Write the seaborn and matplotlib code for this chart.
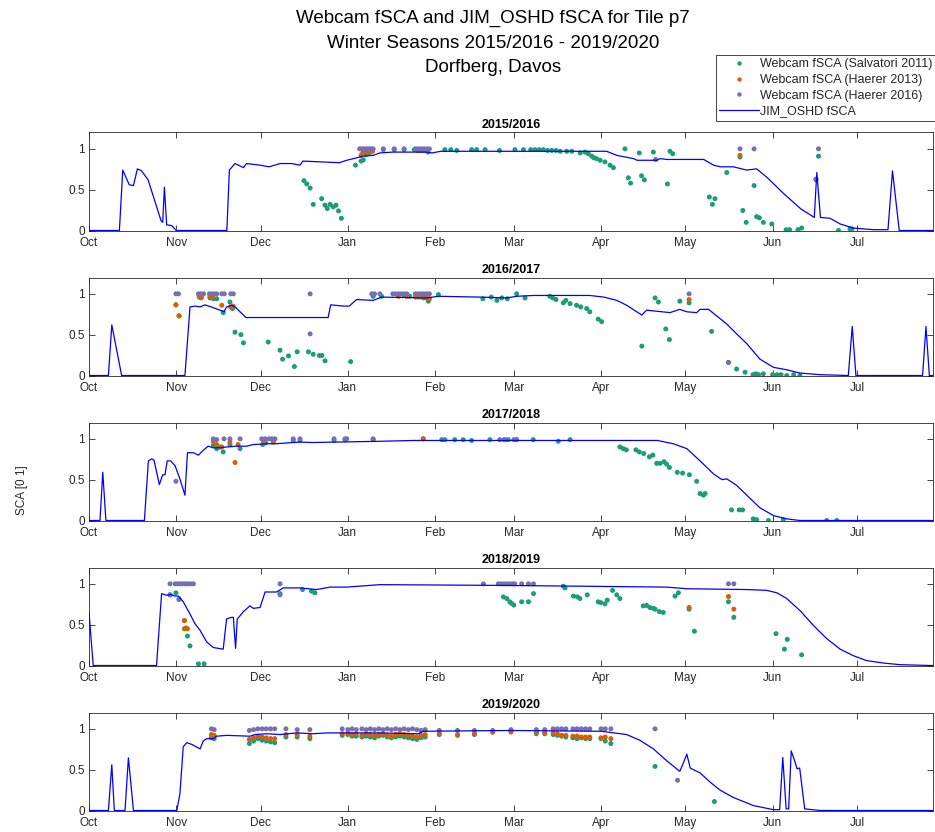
import matplotlib
matplotlib.use("Agg")
import matplotlib.pyplot as plt
from matplotlib.lines import Line2D
import seaborn as sns
import pandas as pd

# ---- axis labels -------------------------------------------------------
month_days = [0, 31, 61, 92, 123, 151, 182, 212, 243, 273]   # days since 1 Oct
month_labels = ["Oct", "Nov", "Dec", "Jan", "Feb", "Mar", "Apr", "May", "Jun", "Jul"]
seasons = ["2015/2016", "2016/2017", "2017/2018", "2018/2019", "2019/2020"]
sources = ["Webcam fSCA (Salvatori 2011)", "Webcam fSCA (Haerer 2013)",
           "Webcam fSCA (Haerer 2016)"]
model_label = "JIM_OSHD fSCA"

# ---- JIM_OSHD modelled fSCA: (day since 1 Oct, fSCA) --------------------
oshd_1516 = [(0, 0), (10.8, 0), (12, 0.74), (14.3, 0.56), (15.8, 0.55), (17.2, 0.755), (18.7, 0.73),
             (21, 0.62), (23.5, 0.35), (25.6, 0.12), (26.2, 0.10), (26.8, 0.53), (27.6, 0.07),
             (29.4, 0.06), (31, 0), (49, 0), (49.9, 0.74), (51.9, 0.82), (54.9, 0.77), (56, 0.82),
             (60.8, 0.80), (64, 0.78), (66, 0.80), (68, 0.82), (72, 0.82), (75, 0.80), (76, 0.85),
             (89, 0.83), (91.6, 0.86), (94, 0.88), (97.5, 0.91), (101, 0.92), (103.4, 0.95),
             (108, 0.96), (120, 0.96), (122, 0.95), (125, 0.97), (150, 0.97), (184, 0.97),
             (187.6, 0.92), (193.6, 0.88), (194.8, 0.86), (201.9, 0.86), (203, 0.88), (205.4, 0.87),
             (218.5, 0.87), (222, 0.80), (224.4, 0.78), (229, 0.78), (233.8, 0.74), (237.3, 0.755),
             (241, 0.65), (247, 0.45), (253, 0.265), (257.8, 0.16), (258.7, 0.71), (260, 0.16),
             (263.4, 0.15), (267, 0.08), (271.7, 0.03), (278.8, 0.01), (284, 0.01), (285.6, 0.73),
             (288, 0), (300, 0)]
oshd_1617 = [(0, 0), (6.9, 0), (8.1, 0.62), (11.6, 0), (34.1, 0), (35.9, 0.84), (37.7, 0.85),
             (39.5, 0.84), (41.2, 0.865), (43, 0.845), (46.6, 0.80), (48, 0.78), (48.9, 0.84),
             (50.7, 0.86), (51.9, 0.84), (53.7, 0.78), (55.8, 0.71), (85, 0.71), (85.9, 0.865),
             (90.4, 0.85), (92.5, 0.85), (95.1, 0.93), (101, 0.92), (104, 0.96), (120, 0.95),
             (124.2, 0.97), (139, 0.96), (148.5, 0.95), (152, 0.97), (158, 0.98), (178, 0.98),
             (183, 0.96), (187.6, 0.92), (191.1, 0.86), (194.7, 0.78), (196.5, 0.74), (198.2, 0.80),
             (206.5, 0.77), (210, 0.81), (212.5, 0.78), (216, 0.77), (217.2, 0.81), (220.2, 0.81),
             (223.1, 0.73), (226.7, 0.63), (230.2, 0.51), (233.8, 0.39), (238.5, 0.20), (243.3, 0.10),
             (248, 0.07), (252.7, 0.03), (259.8, 0.01), (269.9, 0), (271.3, 0.60), (272.6, 0),
             (296.3, 0), (297.5, 0.60), (298.7, 0), (300, 0)]
oshd_1718 = [(0, 0), (3.9, 0), (4.9, 0.59), (6, 0), (19.7, 0), (21.1, 0.73), (22.3, 0.755),
             (23.1, 0.74), (25, 0.44), (26.2, 0.56), (27, 0.56), (27.8, 0.73), (29, 0.73),
             (30.6, 0.67), (32.3, 0.51), (34.1, 0.31), (35, 0.83), (37.1, 0.83), (38.9, 0.80),
             (40.6, 0.86), (42.4, 0.91), (44.2, 0.89), (46.6, 0.89), (48.9, 0.90), (52.5, 0.91),
             (56, 0.91), (58.4, 0.93), (63.2, 0.94), (66.7, 0.94), (70.3, 0.95), (75, 0.96),
             (79.7, 0.955), (86.8, 0.96), (103.4, 0.97), (115.3, 0.98), (202, 0.98), (207.7, 0.94),
             (212.5, 0.88), (217.2, 0.73), (222, 0.57), (225, 0.50), (226.7, 0.51), (230.2, 0.43),
             (233.8, 0.31), (238.5, 0.155), (243.3, 0.06), (248, 0.02), (252.7, 0), (300, 0)]
oshd_1819 = [(0, 0.65), (1.5, 0), (24, 0), (25.8, 0.88), (27.6, 0.86), (29, 0.87), (30.6, 0.85),
             (31.8, 0.85), (33.5, 0.78), (35.9, 0.63), (37.7, 0.51), (39.5, 0.43), (41.8, 0.29),
             (44.2, 0.22), (47.7, 0.20), (48.9, 0.57), (50.7, 0.59), (51.3, 0.59), (52.1, 0.21),
             (52.7, 0.57), (53.7, 0.61), (54.9, 0.66), (57.2, 0.73), (58.4, 0.70), (60.8, 0.71),
             (62.6, 0.90), (66.7, 0.90), (69, 0.95), (75, 0.95), (80.9, 0.93), (85.7, 0.96),
             (91.6, 0.96), (103.4, 0.99), (149.6, 0.98), (205.3, 0.96), (212.5, 0.94), (233.8, 0.93),
             (240.9, 0.92), (244.5, 0.89), (248, 0.82), (252.8, 0.67), (257.5, 0.49), (262.2, 0.33),
             (267, 0.20), (271.7, 0.12), (276.4, 0.06), (282.4, 0.03), (288.3, 0.01), (299, 0),
             (300, 0)]
oshd_1920 = [(0, 0), (6.9, 0), (8.1, 0.56), (9, 0), (12.8, 0), (14, 0.645), (15.8, 0), (31.2, 0),
             (32.3, 0.20), (33.5, 0.78), (34.7, 0.83), (36.5, 0.81), (39.5, 0.755), (40.6, 0.85),
             (41.8, 0.88), (44.2, 0.88), (45.4, 0.91), (48.9, 0.92), (57.2, 0.91), (59, 0.93),
             (63.2, 0.94), (67.9, 0.93), (73.8, 0.95), (79.7, 0.94), (84.5, 0.95), (103.4, 0.95),
             (117, 0.94), (118.8, 0.97), (149.6, 0.98), (182.2, 0.97), (191.1, 0.93), (195.8, 0.86),
             (200.6, 0.755), (205.3, 0.61), (210, 0.48), (211, 0.56), (212.5, 0.69), (213.7, 0.52),
             (217.2, 0.46), (220.7, 0.35), (224.3, 0.25), (229, 0.16), (236.2, 0.06), (243.3, 0.01),
             (245.5, 0.01), (246.6, 0.65), (247.8, 0.02), (248.7, 0.02), (249.6, 0.73), (250.8, 0.61),
             (251.7, 0.51), (252.6, 0.52), (254.4, 0.02), (259.8, 0), (300, 0)]

# ---- Webcam fSCA, Salvatori 2011 --------------------------------------
salv_1516 = [(76.4, 0.61), (77.4, 0.57), (78.6, 0.52), (79.7, 0.32), (82.7, 0.39), (83.9, 0.31),
             (84.7, 0.27), (85.7, 0.32), (86.8, 0.29), (87.8, 0.31), (88.7, 0.24), (89.7, 0.15),
             (94.7, 0.80), (96.7, 0.85), (97.5, 0.865), (98.4, 0.93), (99.3, 0.95), (100.1, 0.96),
             (104.6, 0.99), (108.5, 0.99), (112, 0.99), (115.6, 0.99), (117.5, 0.98), (119, 0.98),
             (120.5, 0.96), (126.5, 0.99), (128.6, 0.99), (130.7, 0.98), (136, 0.99), (137.8, 0.99),
             (140.8, 0.99), (145.9, 0.98), (151.4, 0.99), (154.4, 0.99), (157, 0.99), (158.5, 0.99),
             (160, 0.99), (161.5, 0.99), (163, 0.98), (164.5, 0.98), (166, 0.98), (167.5, 0.97),
             (169.8, 0.97), (171.6, 0.97), (174.6, 0.95), (176.3, 0.96), (177.5, 0.94), (178.7, 0.91),
             (179.5, 0.89), (180.4, 0.88), (181.7, 0.86), (183.4, 0.84), (185.2, 0.80), (186.4, 0.77),
             (190.5, 1.0), (191.7, 0.645), (192.5, 0.58), (195.6, 0.95), (196.4, 0.67), (197.4, 0.62),
             (200.6, 0.96), (205.6, 0.57), (206.5, 0.97), (207.5, 0.94), (220.5, 0.41), (221.6, 0.32),
             (222.5, 0.39), (226.7, 0.71), (231.4, 0.90), (232.4, 0.245), (233.6, 0.10), (236.4, 0.55),
             (237.3, 0.17), (238.3, 0.155), (239.7, 0.10), (242.7, 0.08), (247.8, 0.01), (249, 0.01),
             (252, 0.01), (253.3, 0.03), (258.4, 0.62), (259.3, 0.91), (266.4, 0.0), (270.5, 0.02),
             (271.2, 0.02)]
salv_1617 = [(30.9, 0.865), (32, 0.73), (39.2, 0.96), (39.8, 0.95), (43, 0.95), (44.2, 0.94),
             (45.4, 0.94), (47.7, 0.77), (50.1, 0.90), (51, 0.82), (51.9, 0.53), (54, 0.50),
             (54.9, 0.40), (63.7, 0.41), (67.9, 0.31), (68.8, 0.20), (70.9, 0.24), (73, 0.11),
             (74, 0.29), (78, 0.29), (79.7, 0.26), (81.9, 0.245), (82.8, 0.245), (83.9, 0.18),
             (93, 0.17), (101, 0.97), (104, 0.97), (110, 0.98), (112, 0.98), (114, 0.97),
             (117, 0.96), (119, 0.95), (120.6, 0.91), (124.2, 0.99), (140, 0.94), (143, 0.96),
             (145, 0.92), (146.7, 0.95), (148.7, 0.94), (152, 1.0), (155, 0.95), (163.8, 0.97),
             (164.8, 0.95), (166, 0.93), (168.6, 0.89), (169.5, 0.92), (171, 0.88), (173.3, 0.86),
             (174.8, 0.84), (176.9, 0.82), (178, 0.78), (181, 0.69), (182.2, 0.66), (196.5, 0.36),
             (201.2, 0.95), (202.4, 0.90), (205, 0.57), (206.3, 0.44), (210, 0.91), (213.3, 0.89),
             (221.3, 0.54), (227.3, 0.16), (230.2, 0.08), (233.2, 0.04), (236, 0.01), (237, 0.02),
             (238, 0.01), (239.7, 0.02), (243, 0.01), (244.5, 0.01), (246, 0.01), (248, 0.0),
             (250.5, 0.01), (252.7, 0.0)]
salv_1718 = [(44.2, 0.92), (45.4, 0.88), (46.6, 0.90), (47.7, 0.84), (50.1, 0.93), (53.7, 0.88),
             (61.7, 0.93), (62.8, 0.95), (65.5, 0.96), (72.6, 0.98), (75, 0.98), (87.1, 0.98),
             (91, 0.99), (101, 0.99), (118.8, 1.0), (125.4, 0.99), (126.5, 0.99), (130, 0.99),
             (133, 0.99), (136, 0.98), (142.5, 0.99), (147.9, 0.99), (149, 0.99), (152, 0.99),
             (157.9, 0.99), (166.8, 0.97), (171, 0.99), (188.7, 0.90), (189.9, 0.88), (191, 0.865),
             (194.4, 0.865), (195.6, 0.84), (197.2, 0.82), (199.2, 0.78), (200.4, 0.80), (201.8, 0.70),
             (203, 0.70), (204.4, 0.72), (205.3, 0.69), (206.3, 0.65), (209.1, 0.59), (211, 0.58),
             (213.4, 0.56), (216, 0.48), (217.2, 0.33), (218.4, 0.31), (219, 0.33), (228.4, 0.13),
             (231.1, 0.13), (232.3, 0.13), (236.1, 0.02), (237.3, 0.01), (241.5, 0.0), (246.8, 0.01),
             (262.2, 0.0), (265.8, 0.0)]
salv_1819 = [(28.8, 0.865), (30.9, 0.89), (32, 0.81), (33.9, 0.55), (34.5, 0.46), (35, 0.36),
             (35.9, 0.24), (38.9, 0.02), (40.9, 0.02), (67.9, 0.88), (75.9, 0.93), (79.1, 0.91),
             (80.3, 0.89), (147.3, 0.84), (148.5, 0.82), (149.6, 0.78), (150.2, 0.76), (151, 0.74),
             (153.8, 0.78), (156.2, 0.78), (158, 0.88), (168.6, 0.97), (169.2, 0.95), (172.2, 0.85),
             (173.6, 0.84), (174.5, 0.82), (177.1, 0.865), (181, 0.78), (181.9, 0.77), (183.4, 0.755),
             (184.2, 0.80), (186.1, 0.92), (187.6, 0.865), (188.7, 0.82), (197, 0.73), (198.2, 0.735),
             (199.4, 0.71), (200.6, 0.70), (201.2, 0.69), (202.7, 0.66), (204.1, 0.65), (208.3, 0.85),
             (209.5, 0.89), (213.3, 0.69), (215.2, 0.42), (227.3, 0.78), (229.2, 0.59), (244.2, 0.39),
             (247.2, 0.20), (248.2, 0.32), (253.3, 0.13)]
salv_1920 = [(43.5, 0.89), (44.5, 0.88), (57, 0.82), (58.5, 0.85), (60, 0.88), (61.5, 0.86),
             (63, 0.85), (64.5, 0.84), (66, 0.83), (70, 0.90), (74, 0.90), (78.5, 0.88), (90, 0.92),
             (92, 0.93), (93.5, 0.91), (95, 0.91), (97, 0.90), (98.5, 0.91), (100, 0.90),
             (101.5, 0.89), (103, 0.91), (104.5, 0.92), (106, 0.90), (107.5, 0.89), (109, 0.90),
             (110.5, 0.91), (112, 0.90), (113.5, 0.89), (115, 0.88), (116.5, 0.87), (118, 0.89),
             (119.5, 0.90), (124.5, 0.93), (131, 0.92), (137, 0.93), (143.5, 0.96), (150, 0.97),
             (159, 0.94), (162, 0.94), (165, 0.93), (166.5, 0.92), (168, 0.91), (169.5, 0.90),
             (172, 0.89), (173.5, 0.88), (175, 0.89), (176.5, 0.88), (178, 0.88), (182, 0.88),
             (183.5, 0.85), (185.5, 0.82), (201.2, 0.54), (222.3, 0.11)]

# ---- Webcam fSCA, Haerer 2013 -----------------------------------------
h13_1516 = [(96.7, 0.92), (97.3, 0.95), (98.1, 0.96), (99, 0.98), (99.9, 0.97), (100.8, 0.97),
            (117, 0.98), (118.5, 0.98), (120, 0.98), (231.4, 0.92)]
h13_1617 = [(30.9, 0.865), (32, 0.73), (39.2, 0.97), (40, 0.96), (43, 0.97), (44, 0.96),
            (47.2, 0.86), (50.3, 0.84), (51.2, 0.85), (110, 0.97), (113, 0.97), (116, 0.96),
            (118, 0.96), (120, 0.95), (121, 0.94), (213.3, 0.93)]
h13_1718 = [(44.2, 0.97), (45.4, 0.93), (47.2, 0.90), (50.1, 0.96), (51.9, 0.71), (53, 0.93),
            (62, 0.96), (65.5, 0.97), (118.8, 1.0)]
h13_1819 = [(33.9, 0.55), (33.9, 0.45), (35, 0.45), (213.3, 0.71), (227.3, 0.845), (229.2, 0.69)]
h13_1920 = [(43.5, 0.93), (44.5, 0.92), (57, 0.87), (58.5, 0.89), (60, 0.91), (61.5, 0.90),
            (63, 0.89), (64.5, 0.88), (66, 0.88), (70, 0.93), (74, 0.93), (78.5, 0.91), (90, 0.94),
            (92, 0.95), (93.5, 0.93), (95, 0.94), (97, 0.92), (98.5, 0.94), (100, 0.93),
            (101.5, 0.92), (103, 0.93), (104.5, 0.94), (106, 0.92), (107.5, 0.91), (109, 0.93),
            (110.5, 0.94), (112, 0.93), (113.5, 0.92), (115, 0.91), (116.5, 0.90), (118, 0.92),
            (119.5, 0.93), (124.5, 0.94), (131, 0.93), (137, 0.94), (143.5, 0.96), (150, 0.96),
            (159, 0.96), (162, 0.95), (165, 0.95), (166.5, 0.94), (168, 0.92), (169.5, 0.92),
            (172, 0.91), (173.5, 0.91), (175, 0.90), (176.5, 0.90), (178, 0.90), (182, 0.89),
            (183.5, 0.90), (185.5, 0.88)]

# ---- Webcam fSCA, Haerer 2016 -----------------------------------------
h16_1516 = [(96.2, 1.0), (97, 1.0), (97.8, 1.0), (98.6, 1.0), (99.4, 1.0), (100.2, 1.0),
            (101, 1.0), (104.6, 1.0), (108.5, 1.0), (112, 1.0), (116, 1.0), (117, 1.0),
            (118, 1.0), (119, 1.0), (120, 1.0), (121, 1.0), (201.4, 0.87), (231.4, 1.0),
            (236.4, 1.0), (258.4, 0.63), (259.3, 1.0)]
h16_1617 = [(30.9, 1.0), (31.8, 1.0), (38.9, 1.0), (39.8, 1.0), (40.7, 1.0), (42.8, 1.0),
            (43.7, 1.0), (44.6, 1.0), (45.4, 1.0), (47.2, 1.0), (48.1, 1.0), (50.4, 1.0),
            (51.3, 1.0), (78.6, 1.0), (78.6, 0.51), (100.5, 1.0), (101.5, 1.0), (103.4, 1.0),
            (108, 1.0), (109, 1.0), (110, 1.0), (111, 1.0), (112, 1.0), (113, 1.0), (116, 1.0),
            (117, 1.0), (118, 1.0), (119, 1.0), (120, 1.0), (121, 1.0), (213.3, 1.0), (227.3, 0.16)]
h16_1718 = [(30.9, 0.48), (44.2, 1.0), (45.4, 0.99), (48, 1.0), (50.1, 1.0), (53.7, 1.0),
            (61.4, 1.0), (62.6, 1.0), (64, 1.0), (65, 1.0), (66.1, 1.0), (72.6, 1.0), (75, 1.0),
            (87.1, 1.0), (91, 1.0), (91.6, 1.0), (101, 1.0), (146, 0.99), (147.5, 0.99),
            (151, 0.99), (152, 0.99)]
h16_1819 = [(28.8, 1.0), (28.8, 0.865), (30.6, 1.0), (31.5, 1.0), (32.4, 1.0), (33.3, 1.0),
            (34.2, 1.0), (35.1, 1.0), (36, 1.0), (37.1, 1.0), (32, 0.81), (67.9, 1.0), (67.9, 0.865),
            (140.2, 1.0), (145.5, 1.0), (146.5, 1.0), (147.5, 1.0), (148.5, 1.0), (149.6, 1.0),
            (150.5, 1.0), (151.3, 1.0), (153.8, 1.0), (156.2, 1.0), (158, 1.0), (227.3, 1.0),
            (229.2, 1.0)]
h16_1920 = [(43.5, 1.0), (44.5, 0.99), (57, 0.98), (58.5, 0.99), (60, 1.0), (61.5, 1.0),
            (63, 1.0), (64.5, 1.0), (66, 1.0), (70, 1.0), (74, 0.99), (78.5, 0.99), (90, 1.0),
            (92, 0.99), (93.5, 1.0), (95, 0.99), (97, 1.0), (98.5, 0.99), (100, 1.0), (101.5, 0.99),
            (103, 1.0), (104.5, 0.99), (106, 1.0), (107.5, 0.99), (109, 1.0), (110.5, 0.99),
            (112, 1.0), (113.5, 0.99), (115, 1.0), (116.5, 0.99), (118, 0.98), (119.5, 0.99),
            (124.5, 0.98), (131, 0.98), (137, 0.98), (143.5, 0.98), (150, 0.99), (159, 0.99),
            (162, 0.99), (165, 1.0), (166.5, 1.0), (168, 1.0), (169.5, 1.0), (172, 1.0), (173.5, 1.0),
            (175, 1.0), (176.5, 1.0), (178, 1.0), (182, 1.0), (183.5, 1.0), (185.5, 1.0),
            (201.2, 1.0), (209.2, 0.37)]

model_by_season = [oshd_1516, oshd_1617, oshd_1718, oshd_1819, oshd_1920]
webcam_by_season = [
    [salv_1516, h13_1516, h16_1516],
    [salv_1617, h13_1617, h16_1617],
    [salv_1718, h13_1718, h16_1718],
    [salv_1819, h13_1819, h16_1819],
    [salv_1920, h13_1920, h16_1920],
]

# ---- styling ---------------------------------------------------------------
sns.set_theme(style="ticks")
plt.rcParams["font.family"] = ["Liberation Sans", "DejaVu Sans"]
ink = "#262626"
plt.rcParams.update({
    "axes.edgecolor": ink, "axes.linewidth": 0.6,
    "xtick.color": ink, "ytick.color": ink,
    "xtick.direction": "in", "ytick.direction": "in",
    "xtick.major.size": 4, "ytick.major.size": 4,
    "xtick.major.width": 0.6, "ytick.major.width": 0.6,
    "xtick.labelsize": 8.5, "ytick.labelsize": 8.5,
})
palette = dict(zip(sources, ["#1b9e77", "#d95f02", "#7570b3"]))
line_color = "#0000ff"

fig = plt.figure(figsize=(9.35, 8.32), dpi=100)
W, H = 935.0, 832.0
ax_left, ax_right = 89 / W, 933 / W
bottoms_px = [230.5, 375.5, 520.5, 665.5, 810.5]
height_px = 98.0

for i, season in enumerate(seasons):
    b = bottoms_px[i]
    ax = fig.add_axes([ax_left, 1 - b / H, ax_right - ax_left, height_px / H])

    frames = []
    for src, pts in zip(sources, webcam_by_season[i]):
        frames.append(pd.DataFrame({"day": [p[0] for p in pts],
                                    "fsca": [p[1] for p in pts],
                                    "source": src}))
    webcam = pd.concat(frames, ignore_index=True)
    sns.scatterplot(data=webcam, x="day", y="fsca", hue="source", hue_order=sources,
                    palette=palette, s=13, linewidth=0, legend=False, ax=ax, zorder=2)

    model = pd.DataFrame({"day": [p[0] for p in model_by_season[i]],
                          "fsca": [p[1] for p in model_by_season[i]]})
    sns.lineplot(data=model, x="day", y="fsca", color=line_color, linewidth=0.9,
                 sort=False, estimator=None, ax=ax, zorder=3)

    ax.set_xlim(0, 300)
    ax.set_ylim(0, 1.2)
    ax.set_xticks(month_days)
    ax.set_xticklabels(month_labels)
    ax.set_yticks([0, 0.5, 1])
    ax.set_yticklabels(["0", "0.5", "1"])
    ax.tick_params(top=True, right=True)
    ax.tick_params(axis="x", pad=4.5)
    ax.tick_params(axis="y", pad=3)
    for s in ax.spines.values():
        s.set_visible(True)
    ax.set_xlabel("")
    ax.set_ylabel("")
    ax.set_title(season, fontsize=9, fontweight="bold", pad=3, color="black")

fig.text(22 / W, 1 - 490 / H, "SCA [0 1]", rotation=90, ha="center", va="center",
         fontsize=8.5, color=ink)

fig.text(493 / W, 1 - 18 / H, "Webcam fSCA and JIM_OSHD fSCA for Tile p7",
         ha="center", va="center", fontsize=13.5, color="black")
fig.text(493 / W, 1 - 43 / H, "Winter Seasons 2015/2016 - 2019/2020",
         ha="center", va="center", fontsize=13.5, color="black")
fig.text(493 / W, 1 - 68 / H, "Dorfberg, Davos",
         ha="center", va="center", fontsize=13.5, color="black")

handles = [Line2D([], [], linestyle="none", marker="o", markersize=3.2,
                  markerfacecolor=palette[s], markeredgewidth=0) for s in sources]
handles.append(Line2D([], [], color=line_color, linewidth=0.9))
leg = fig.legend(handles, sources + [model_label], loc="upper left",
                 bbox_to_anchor=(716 / W, 1 - 55 / H), bbox_transform=fig.transFigure,
                 fontsize=9, frameon=True, fancybox=False, edgecolor=ink, framealpha=1,
                 borderpad=0.25, labelspacing=0.3, handlelength=3.2, handletextpad=0.1,
                 borderaxespad=0)
leg.get_frame().set_linewidth(0.6)

fig.savefig("out.png", dpi=100)
